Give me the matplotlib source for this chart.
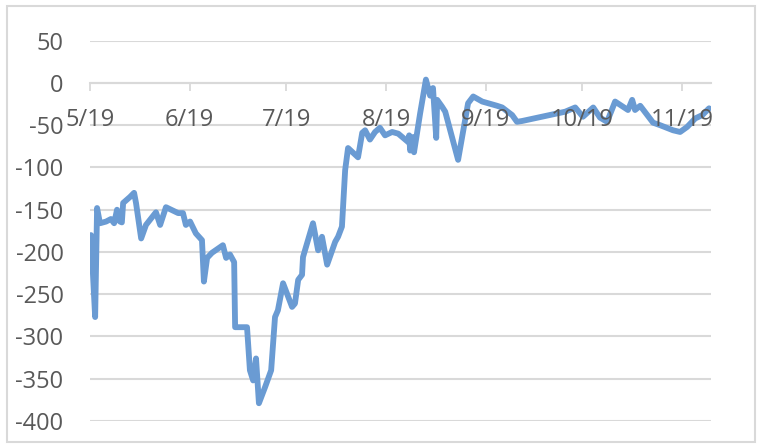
import numpy as np
import matplotlib
matplotlib.use("Agg")
import matplotlib.pyplot as plt
from matplotlib.patches import Rectangle

# Days since 2019-05-01 and the plotted value
day = [0.3, 1.6, 2.2, 3.1, 5.0, 6.5, 7.5, 8.4, 9.3, 9.9, 10.3, 12.4, 13.7, 14.3,
       15.9, 17.4, 20.5, 21.8, 23.6, 27.4, 28.9, 29.8, 31.1, 32.9, 34.8, 35.4,
       36.4, 37.9, 41.3, 42.3, 43.5, 44.8, 45.1, 48.8, 49.7, 50.7, 51.6, 52.5,
       54.4, 56.3, 57.5, 58.4, 60.0, 62.8, 63.7, 64.7, 65.9, 66.2, 69.3, 70.9,
       72.1, 73.7, 76.2, 77.1, 78.3, 79.3, 80.2, 83.3, 84.6, 85.5, 87.0, 88.6,
       90.1, 91.7, 93.9, 95.8, 98.9, 99.2, 99.5, 100.4, 100.7, 102.6, 104.4,
       105.7, 106.6, 107.6, 107.9, 109.4, 110.4, 114.4, 117.5, 119.1, 121.9,
       126.5, 128.1, 131.2, 132.7, 134.3, 147.7, 150.8, 153.2, 156.4, 158.5,
       160.7, 163.2, 167.2, 168.5, 169.4, 171.0, 175.0, 177.2, 181.2, 183.4,
       185.6, 188.1, 190.3, 192.4]
value = [-180, -277, -148, -166, -164, -161, -166, -150, -164, -165, -142, -135,
         -130, -142, -184, -168, -153, -168, -147, -154, -154, -168, -164, -178,
         -186, -235, -207, -201, -192, -207, -203, -212, -289, -289, -340, -352,
         -326, -379, -360, -340, -277, -269, -237, -265, -261, -233, -227, -206,
         -166, -198, -182, -215, -188, -182, -170, -103, -77, -88, -59, -56, -67,
         -58, -53, -62, -58, -60, -70, -62, -80, -64, -82, -36, 4, -15, -6, -65,
         -20, -28, -34, -91, -24, -16, -22, -27, -29, -38, -46, -45, -34, -29,
         -40, -29, -41, -46, -22, -32, -20, -32, -27, -47, -50, -56, -58, -52,
         -42, -38, -30]

month_labels = ["5/19", "6/19", "7/19", "8/19", "9/19", "10/19", "11/19"]
month_starts = ["2019-05-01", "2019-06-01", "2019-07-01", "2019-08-01",
                "2019-09-01", "2019-10-01", "2019-11-01"]
y_ticks = [50, 0, -50, -100, -150, -200, -250, -300, -350, -400]

plt.rcParams['font.family'] = ['Open Sans', 'DejaVu Sans']
text_color = "#595959"
grid_color = "#D9D9D9"

fig = plt.figure(figsize=(7.6, 4.48), dpi=100)
ax = fig.add_axes([90/760, 1-421/448, (711-90)/760, (421-40.7)/448])

month_pos = (np.array(month_starts, dtype="datetime64[D]")
             - np.datetime64("2019-05-01")).astype(float)

ax.plot(day, value, color="#6A9BD3", lw=4.2, solid_joinstyle="round",
        solid_capstyle="round", zorder=2)

ax.set_xlim(0, 193.0)
ax.set_ylim(-400, 50)

ax.set_yticks(y_ticks)
ax.set_yticklabels([str(v) for v in y_ticks])
ax.grid(axis="y", color=grid_color, lw=1.5)
ax.yaxis.set_zorder(0.5)
ax.tick_params(axis="y", length=0, pad=19, labelsize=17, labelcolor=text_color)

ax.set_xticks(month_pos)
ax.set_xticklabels(month_labels)
ax.tick_params(axis="x", direction="out", length=6, width=1.3, color=grid_color,
               pad=12, labelsize=17, labelcolor=text_color)
ax.xaxis.set_zorder(4)

for s in ["top", "right", "left"]:
    ax.spines[s].set_visible(False)
ax.spines["bottom"].set_position(("data", 0))
ax.spines["bottom"].set_color(grid_color)
ax.spines["bottom"].set_linewidth(1.5)
ax.spines["bottom"].set_zorder(1)

fig.patches.append(Rectangle((7/760, 1-442/448), (755-7)/760, (442-6)/448,
                             transform=fig.transFigure, fill=False,
                             edgecolor=grid_color, lw=1.5))

fig.savefig("out.png", dpi=100)
